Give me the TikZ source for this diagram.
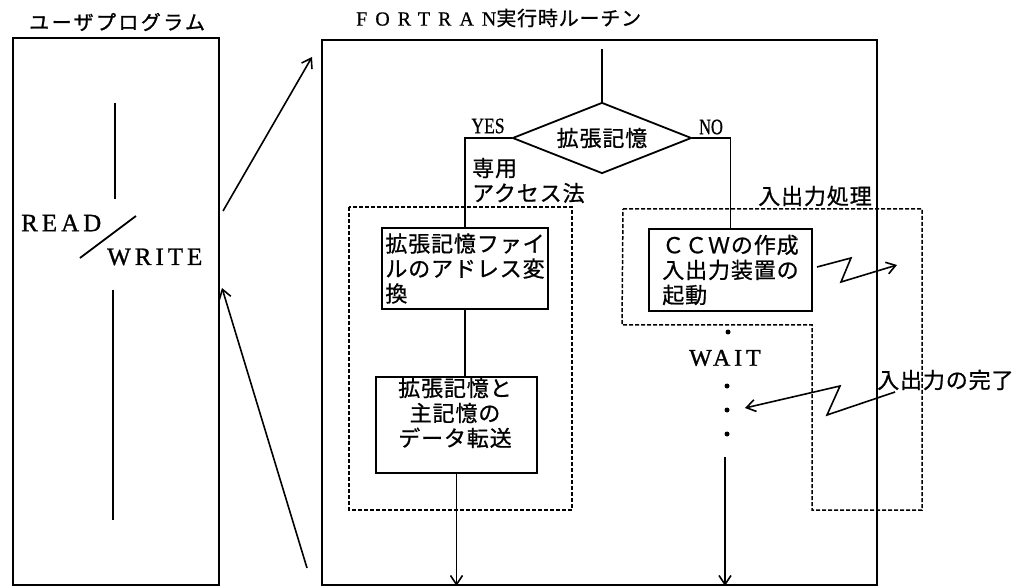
\documentclass[tikz,border=0pt]{standalone}
\usepackage{fontspec}
\usetikzlibrary{shapes.geometric,arrows.meta,calc}
\newfontfamily\jp{Noto Sans CJK JP}[LetterSpace=4,FakeBold=0.8]
\newfontfamily\jpt{Noto Sans CJK JP}[LetterSpace=12,FakeBold=1.2]
\newfontfamily\latw{Liberation Serif}[LetterSpace=16,FakeBold=1]
\newfontfamily\latf{Liberation Serif}[LetterSpace=40,FakeBold=0.5]
\newfontfamily\latn{Liberation Serif}[FakeBold=0.8]
\begin{document}
\begin{tikzpicture}[x=1pt,y=-1pt,
  solid box/.style={draw, line width=1.8pt, inner sep=0pt},
  dbox/.style={draw, dash pattern=on 4pt off 2pt, line width=1.5pt},
  jtxt/.style={font=\fontsize{22}{25}\selectfont\jp, inner sep=0pt, align=left},
  ttl/.style={font=\fontsize{20}{23}\selectfont\jpt, inner sep=0pt},
  wtxt/.style={font=\fontsize{25}{26}\selectfont\latw, inner sep=0pt},
  yn/.style={font=\fontsize{22}{22}\selectfont\latn, inner sep=0pt},
  conn/.style={line width=1.8pt},
  arr/.style={line width=1.6pt, -{Straight Barb[length=9pt,width=12pt]}},
  dot/.style={circle, fill, inner sep=0pt, minimum size=5pt}
]
\useasboundingbox (0,0) rectangle (1029,588);

% titles
\node[ttl, anchor=west] (t1) at (29,22) {ユーザプログラム};
\node[inner sep=0pt, anchor=west] (t2) at (356,18) {{\fontsize{20}{23}\selectfont\latf FORTRAN}{\fontsize{20}{23}\selectfont\jp 実行時ルーチン}};

% outer boxes
\node[solid box, minimum width=206pt, minimum height=547pt] (up) at (116,311.5) {};
\node[solid box, minimum width=555pt, minimum height=545pt] (rt) at (599.5,312.5) {};

% user program contents
\draw[conn] (115,103) -- (115,199);
\draw[conn] (113,290) -- (113,520);
\draw[conn] (80,258) -- (136,216);
\node[wtxt, anchor=west] (rd) at (21,223) {READ};
\node[wtxt, anchor=west] (wr) at (107,257) {WRITE};

% call / return arrows
\coordinate (a1) at (223,211);
\coordinate (a2) at (312,57);
\coordinate (a3) at (307,568);
\coordinate (a4) at (222,288);
\draw[arr] (a1) -- (a2);
\draw[arr] (a3) -- (a4);

% decision
\coordinate (tp) at (602,49);
\node[draw, diamond, aspect=2.5, minimum width=179pt, minimum height=71pt, inner sep=0pt, line width=1.8pt, font=\fontsize{22}{25}\selectfont\jp] (dia) at (602,138) {拡張記憶};
\draw[conn] (tp) -- (dia.north);

% dashed groups
\draw[dbox] (349,207) rectangle (572,510);
\draw[dbox] (623,209) -- (922,209) -- (922,510) -- (812,510) -- (812,325) -- (622,325) -- cycle;

% process boxes
\node[solid box, jtxt, minimum width=166pt, minimum height=81pt] (b1) at (465,268.5) {拡張記憶ファイ\\ルのアドレス変\\換};
\node[solid box, minimum width=161pt, minimum height=96pt] (b2) at (456.5,425) {};
\node[jtxt, align=center] (b2t) at (455,413) {拡張記憶と\\主記憶の\\データ転送};
\node[solid box, jtxt, minimum width=163pt, minimum height=82pt] (ccw) at (730.5,270) {ＣＣＷの作成\\入出力装置の\\起動};

% branches
\draw[conn] (dia.west) -| (b1.north);
\draw[conn] (dia.east) -| (ccw.north);
\draw[conn] (b1.south) -- (b1.south |- b2.north);
\draw[arr] (b2.south) -- (b2.south |- rt.south);

\node[yn] (yes) at (488,126) {\scalebox{0.8}[1]{YES}};
\node[yn] (no) at (711,127) {\scalebox{0.75}[1]{NO}};

% labels
\node[jtxt, anchor=west] (acc) at (472,180.5) {専用\\アクセス法};
\node[jtxt] (io) at (815,196) {入出力処理};
\node[jtxt, anchor=west] (done) at (877,380) {入出力の完了};

% wait
\node[dot] (d0) at (728,332) {};
\node[font=\fontsize{24}{26}\selectfont\latw, inner sep=0pt, anchor=west] (wait) at (689,358) {WAIT};
\node[dot] (d1) at (727,386) {};
\node[dot] (d2) at (727,410) {};
\node[dot] (d3) at (727,434) {};
\coordinate (wa) at (725,457);
\draw[arr] (wa) -- (wa |- rt.south);

% interrupt zigzags
\coordinate (z1a) at (817,267);
\coordinate (z1b) at (851,258);
\coordinate (z1c) at (841,282);
\coordinate (z1d) at (897,265);
\draw[arr] (z1a) -- (z1b) -- (z1c) -- (z1d);
\coordinate (z2a) at (895,392);
\coordinate (z2b) at (827,415);
\coordinate (z2c) at (840,386);
\coordinate (z2d) at (745,408);
\draw[arr] (z2a) -- (z2b) -- (z2c) -- (z2d);
\end{tikzpicture}
\end{document}
